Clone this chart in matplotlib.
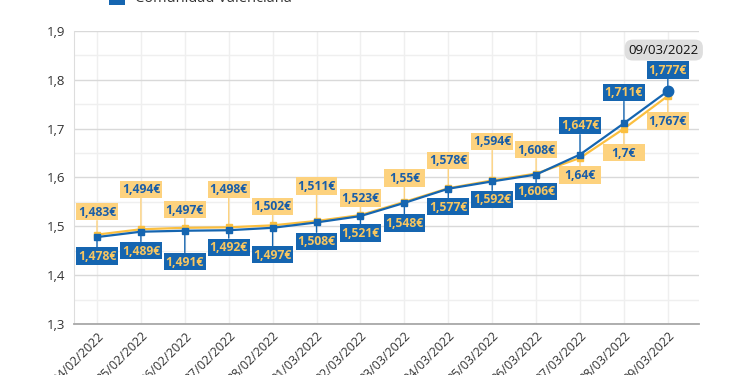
import matplotlib
matplotlib.use('Agg')
import matplotlib.pyplot as plt
from matplotlib.patches import Rectangle
from matplotlib.text import Text
from matplotlib.offsetbox import DrawingArea, AnnotationBbox
from matplotlib.ticker import FuncFormatter, MultipleLocator

plt.rcParams['font.family'] = ['Open Sans', 'DejaVu Sans']

dates = ['24/02/2022', '25/02/2022', '26/02/2022', '27/02/2022', '28/02/2022',
         '01/03/2022', '02/03/2022', '03/03/2022', '04/03/2022', '05/03/2022',
         '06/03/2022', '07/03/2022', '08/03/2022', '09/03/2022']
valenciana = [1.478, 1.489, 1.491, 1.492, 1.497, 1.508, 1.521, 1.548, 1.577,
              1.592, 1.606, 1.647, 1.711, 1.777]
espana = [1.483, 1.494, 1.497, 1.498, 1.502, 1.511, 1.523, 1.55, 1.578,
          1.594, 1.608, 1.64, 1.7, 1.767]

# label offsets in pixels (positive = down on screen)
blue_off = [19, 19, 31, 17, 27, 19, 17, 20, 18, 18, 17, -29, -31, -21]
yellow_off = [-23, -40, -18, -38, -19, -35, -17, -24, -28, -39, -24, 17, 24, 25]

BLUE = '#1565b0'
YELLOW = '#fbbf3f'
BOX_YELLOW = '#fdd27e'
TXT_YELLOW = '#f8c660'
TXT_BLUE = '#1a5ea8'

fig = plt.figure(figsize=(7.5, 3.75), dpi=100)
ax = fig.add_axes([73.5 / 750, 1 - 324 / 375, (699 - 73.5) / 750, (324 - 31) / 375])

x = list(range(len(dates)))
ax.set_xlim(-0.535, 13.71)
ax.set_ylim(1.3, 1.9)

ax.yaxis.set_major_locator(MultipleLocator(0.1))
ax.yaxis.set_minor_locator(MultipleLocator(0.05))
ax.yaxis.set_major_formatter(FuncFormatter(lambda v, p: ('%.1f' % v).replace('.', ',')))
ax.grid(axis='y', which='major', color='#d9d9d9', lw=1)
ax.grid(axis='y', which='minor', color='#efefef', lw=1)
ax.grid(axis='x', which='major', color='#efefef', lw=1)
ax.set_axisbelow(True)
ax.tick_params(length=0, which='both')
ax.tick_params(axis='y', labelsize=9.5, labelcolor='#333333', pad=6)
ax.set_xticks(x)
ax.set_xticklabels(dates, rotation=45, ha='right', rotation_mode='anchor',
                   fontsize=9, color='#333333')
ax.tick_params(axis='x', pad=4)

for s in ['top', 'right']:
    ax.spines[s].set_visible(False)
ax.spines['left'].set_color('#dddddd')
ax.spines['bottom'].set_color('#a8a8a8')
ax.spines['bottom'].set_linewidth(1.3)

ax.plot(x, espana, color=YELLOW, lw=1.6, marker='s', ms=4.5, zorder=5)
ax.plot(x, valenciana, color=BLUE, lw=1.6, marker='s', ms=4.5, zorder=6)
ax.plot(x[-1], valenciana[-1], 'o', color=BLUE, ms=7.5, zorder=7)


def label(xi, yi, s, dy, fc, tc):
    w, h = 30, 12.4
    da = DrawingArea(w, h, 0, 0)
    da.add_artist(Rectangle((0, 0), w, h, fc=fc, ec='none'))
    da.add_artist(Text(w / 2, h / 2 - 0.3, s, ha='center', va='center',
                       fontsize=8.7, fontweight='bold', color=tc))
    ab = AnnotationBbox(da, (xi, yi), xybox=(0, -dy), boxcoords='offset pixels',
                        frameon=False, pad=0, box_alignment=(0.5, 0.5),
                        arrowprops=dict(arrowstyle='-', color=fc, lw=1,
                                        shrinkA=0, shrinkB=0),
                        zorder=4)
    ax.add_artist(ab)


def fmt(v):
    return ('%.3f' % v).rstrip('0').rstrip('.').replace('.', ',') + '€'


for i in x:
    label(i, espana[i], fmt(espana[i]), yellow_off[i], BOX_YELLOW, TXT_BLUE)
    label(i, valenciana[i], fmt(valenciana[i]), blue_off[i], BLUE, TXT_YELLOW)

ax.annotate(dates[-1], (x[-1], valenciana[-1]), xytext=(-4, 41),
            textcoords='offset pixels', ha='center', va='center',
            fontsize=9.5, color='#111111', zorder=8,
            bbox=dict(boxstyle='round,pad=0.3,rounding_size=0.6',
                      fc='#dedede', ec='none'))

# legend (cut off at top of image)
fig.patches.append(Rectangle((109 / 750, 1 - 5 / 375), 16 / 750, 16 / 375,
                             transform=fig.transFigure, fc=BLUE, ec='none'))
fig.text(135 / 750, 1 - 2 / 375, 'Comunidad Valenciana', ha='left', va='baseline',
         fontsize=10.5, color='#333333')

fig.savefig('out.png', dpi=100)
